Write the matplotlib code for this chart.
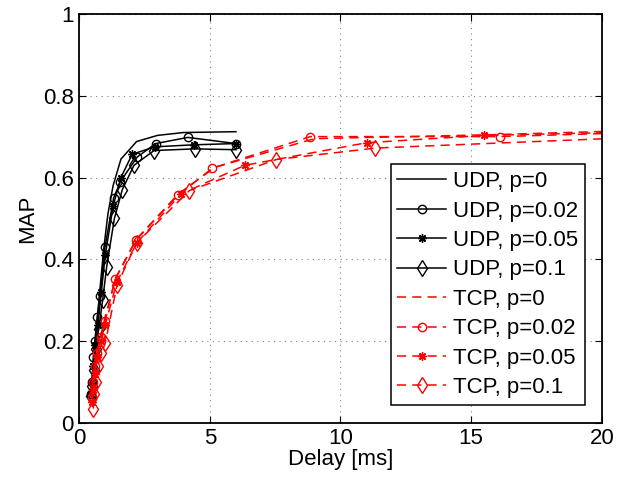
import matplotlib
matplotlib.use('Agg')
from matplotlib import pyplot as pl

pl.rcParams['font.family'] = ['Liberation Sans', 'DejaVu Sans']

# UDP curves
udp0_x = [0.45, 0.5, 0.55, 0.62, 0.7, 0.8, 0.95, 1.1, 1.3, 1.6, 2.2, 3.0, 4.0, 6.0]
udp0_y = [0.07, 0.11, 0.15, 0.2, 0.26, 0.33, 0.43, 0.51, 0.58, 0.645, 0.688, 0.703, 0.71, 0.712]

udp2_x = [0.45, 0.5, 0.54, 0.6, 0.7, 0.8, 0.99, 1.32, 1.58, 2.22, 2.93, 4.16, 6.0]
udp2_y = [0.07, 0.1, 0.16, 0.2, 0.26, 0.31, 0.43, 0.55, 0.59, 0.65, 0.683, 0.698, 0.683]

udp5_x = [0.45, 0.5, 0.55, 0.62, 0.72, 0.85, 1.0, 1.3, 1.6, 2.03, 2.9, 4.4, 6.0]
udp5_y = [0.07, 0.1, 0.14, 0.19, 0.24, 0.32, 0.41, 0.53, 0.6, 0.657, 0.675, 0.68, 0.683]

udp10_x = [0.45, 0.5, 0.56, 0.64, 0.75, 0.9, 1.05, 1.35, 1.65, 2.1, 2.87, 4.42, 6.0]
udp10_y = [0.065, 0.09, 0.13, 0.18, 0.23, 0.3, 0.38, 0.5, 0.57, 0.63, 0.666, 0.67, 0.668]

# TCP curves
tcp0_x = [0.5, 0.55, 0.62, 0.7, 0.85, 1.0, 1.4, 2.2, 3.8, 5.2, 9.0, 16.0, 24.0]
tcp0_y = [0.06, 0.1, 0.14, 0.18, 0.22, 0.26, 0.355, 0.45, 0.56, 0.625, 0.695, 0.705, 0.72]

tcp2_x = [0.5, 0.55, 0.6, 0.7, 0.85, 1.0, 1.38, 2.16, 3.77, 5.1, 8.85, 16.1, 24.0]
tcp2_y = [0.06, 0.1, 0.14, 0.17, 0.21, 0.25, 0.351, 0.446, 0.556, 0.623, 0.7, 0.7, 0.715]

tcp5_x = [0.5, 0.55, 0.6, 0.7, 0.85, 1.0, 1.45, 2.2, 3.9, 6.35, 11.0, 15.5, 24.0]
tcp5_y = [0.05, 0.08, 0.12, 0.16, 0.2, 0.24, 0.345, 0.44, 0.56, 0.63, 0.685, 0.703, 0.715]

tcp10_x = [0.54, 0.58, 0.64, 0.72, 0.85, 1.0, 1.45, 2.2, 4.22, 7.54, 11.34, 24.0]
tcp10_y = [0.035, 0.07, 0.1, 0.14, 0.17, 0.195, 0.337, 0.44, 0.568, 0.644, 0.672, 0.705]

fig = pl.figure(figsize=(6.23, 4.8), dpi=100)
ax = fig.add_axes([0.127, 0.119, 0.839, 0.852])

ms = 6
star = (8, 2, 0)
ax.plot(udp0_x, udp0_y, 'k-', lw=1.1, label='UDP, p=0')
ax.plot(udp2_x, udp2_y, 'k-', lw=1.1, marker='o', ms=ms, mfc='none', label='UDP, p=0.02')
ax.plot(udp5_x, udp5_y, 'k-', lw=1.1, marker=star, ms=ms, label='UDP, p=0.05')
ax.plot(udp10_x, udp10_y, 'k-', lw=1.1, marker='d', ms=ms + 2, mfc='none', label='UDP, p=0.1')

ax.plot(tcp0_x, tcp0_y, 'r--', lw=1.1, dashes=(6, 4), label='TCP, p=0')
ax.plot(tcp2_x, tcp2_y, 'r--', lw=1.1, dashes=(6, 4), marker='o', ms=ms, mfc='none', label='TCP, p=0.02')
ax.plot(tcp5_x, tcp5_y, 'r--', lw=1.1, dashes=(6, 4), marker=star, ms=ms, label='TCP, p=0.05')
ax.plot(tcp10_x, tcp10_y, 'r--', lw=1.1, dashes=(6, 4), marker='d', ms=ms + 2, mfc='none', label='TCP, p=0.1')

ax.set_xlim(0, 20)
ax.set_ylim(0, 1)
ax.set_xticks([0, 5, 10, 15, 20])
ax.set_yticks([0, 0.2, 0.4, 0.6, 0.8, 1])
ax.set_yticklabels(['0', '0.2', '0.4', '0.6', '0.8', '1'])
ax.tick_params(direction='in', top=True, right=True, labelsize=16, length=5, pad=4)
ax.grid(True, linestyle=(0, (1, 4)), color='0.5', lw=0.8)
for s in ax.spines.values():
    s.set_linewidth(1.3)

ax.set_xlabel('Delay [ms]', fontsize=16, labelpad=0)
ax.set_ylabel('MAP', fontsize=16, labelpad=3)

leg = ax.legend(loc='lower right', bbox_to_anchor=(0.967, 0.044), borderaxespad=0,
                fontsize=16, fancybox=False, framealpha=1, edgecolor='k',
                handlelength=2.2, labelspacing=0.38, borderpad=0.3, handletextpad=0.3)
leg.get_frame().set_linewidth(1.1)

fig.savefig('out.png')
